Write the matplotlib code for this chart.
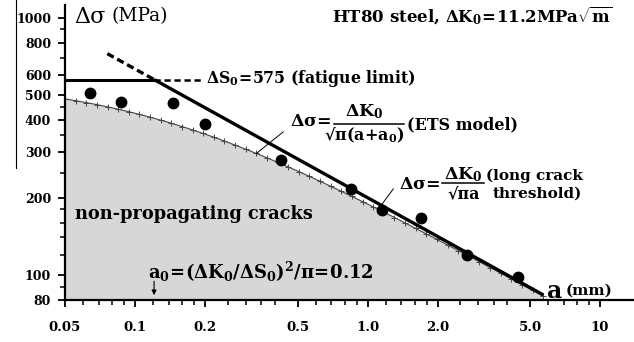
import numpy as np
import matplotlib.pyplot as plt
from matplotlib.lines import Line2D
from matplotlib.ticker import FixedLocator, FixedFormatter, NullFormatter

plt.rcParams['font.family'] = 'DejaVu Serif'
plt.rcParams['mathtext.fontset'] = 'custom'
plt.rcParams['mathtext.rm'] = 'DejaVu Serif:bold'
plt.rcParams['mathtext.it'] = 'DejaVu Serif:bold'
plt.rcParams['mathtext.bf'] = 'DejaVu Serif:bold'

# material constants (HT80 steel)
dK0 = 11.2      # MPa sqrt(m)
dS0 = 575.0     # MPa, fatigue limit
a0 = (dK0 / dS0) ** 2 / np.pi * 1000.0   # mm

# non-propagating crack data
a_data = [0.064, 0.087, 0.146, 0.201, 0.426, 0.85, 1.15, 1.70, 2.67, 4.46]
s_data = [509, 472, 466, 386, 281, 216, 179, 167, 120, 98.5]

xticks = [0.05, 0.1, 0.2, 0.5, 1.0, 2.0, 5.0, 10]
xticklabels = ['0.05', '0.1', '0.2', '0.5', '1.0', '2.0', '5.0', '10']
xminor = [0.06, 0.07, 0.08, 0.09, 0.12, 0.14, 0.16, 0.18, 0.25, 0.3, 0.35, 0.4,
          0.6, 0.7, 0.8, 0.9, 1.2, 1.4, 1.6, 1.8, 2.5, 3, 3.5, 4, 6, 7, 8, 9]
yticks = [80, 100, 200, 300, 400, 500, 600, 800, 1000]
yminor = [90, 120, 140, 160, 180, 250, 350, 450, 700, 900]

a_end = 5.7

# ETS model and long crack threshold
a_ets = np.logspace(np.log10(0.05), np.log10(a_end), 46)
s_ets = dK0 / np.sqrt(np.pi * (a_ets + a0) * 1e-3)
a_lc = np.array([a0, a_end])
s_lc = dK0 / np.sqrt(np.pi * a_lc * 1e-3)
a_lcd = np.array([0.076, a0])
s_lcd = dK0 / np.sqrt(np.pi * a_lcd * 1e-3)

fig = plt.figure(figsize=(6.34, 3.42), dpi=100)
ax = fig.add_axes([65 / 634, 42 / 342, 569 / 634, 295 / 342])
ax.set_xscale('log')
ax.set_yscale('log')
ax.set_xlim(0.05, 14)
ax.set_ylim(80, 1120)

ax.fill_between(a_ets, 80, s_ets, color='#d7d7d7', lw=0, zorder=1)
ax.plot(a_ets, s_ets, color='#444444', lw=0.8, marker='+', ms=4.5, mew=0.7, zorder=2)
ax.plot(a_lc, s_lc, color='k', lw=2.4, solid_capstyle='butt', zorder=3)
ax.plot([0.05, a0], [dS0, dS0], color='k', lw=2.2, zorder=3)
ax.plot(a_lcd, s_lcd, color='k', lw=2.4, ls=(0, (2.2, 1.2)), zorder=3)
ax.plot([a0, 0.196], [dS0, dS0], color='k', lw=1.8, ls=(0, (2.5, 1.5)), zorder=3)
ax.plot(a_data, s_data, 'o', color='k', ms=7.5, zorder=4)

for s in ['top', 'right']:
    ax.spines[s].set_visible(False)
for s in ['left', 'bottom']:
    ax.spines[s].set_linewidth(1.6)

ax.xaxis.set_major_locator(FixedLocator(xticks))
ax.xaxis.set_major_formatter(FixedFormatter(xticklabels))
ax.xaxis.set_minor_locator(FixedLocator(xminor))
ax.xaxis.set_minor_formatter(NullFormatter())
ax.yaxis.set_major_locator(FixedLocator(yticks))
ax.yaxis.set_major_formatter(FixedFormatter([str(v) for v in yticks]))
ax.yaxis.set_minor_locator(FixedLocator(yminor))
ax.yaxis.set_minor_formatter(NullFormatter())
ax.tick_params(which='major', direction='out', length=5, width=1.3)
ax.tick_params(which='minor', direction='out', length=3.5, width=1.1)
ax.tick_params(axis='x', which='major', pad=10, labelsize=9.5)
ax.tick_params(axis='y', which='major', pad=5, labelsize=9)
for lab in ax.get_xticklabels() + ax.get_yticklabels():
    lab.set_fontweight('bold')

# axis captions and header
ax.text(0.0545, 1010, 'Δσ', fontsize=16, va='center', ha='left')
ax.text(0.079, 1010, '(MPa)', fontsize=13.5, va='center', ha='left')
ax.text(11.4, 1018, r'HT80 steel, $\Delta K_0\!=\!11.2MPa\sqrt{m}$', fontsize=12,
        fontweight='bold', va='center', ha='right')
ax.text(0.203, 582, r'$\Delta S_0\!=\!575$ (fatigue limit)', fontsize=11.3,
        fontweight='bold', va='center', ha='left')
ax.text(5.9, 87, 'a', fontsize=17, fontweight='bold', va='center', ha='left')
ax.text(7.1, 87, '(mm)', fontsize=11, fontweight='bold', va='center', ha='left')


def frac_label(x, y, num, den, x0, x1, yn, yd, size, dsize):
    # numerator / bar / denominator, all placed in data coordinates
    ax.text(x, yn, num, fontsize=size, fontweight='bold', ha='center', va='center')
    ax.text(x, yd, den, fontsize=dsize, fontweight='bold', ha='center', va='center')
    ax.plot([x0, x1], [y, y], color='k', lw=1.1)


# ETS model label
ax.text(0.462, 394, r'$\Delta\sigma\!=$', fontsize=12.5, ha='left', va='center')
frac_label(0.97, 386, r'$\Delta K_0$', r'√π(a+a$_0$)', 0.721, 1.44, 431, 350, 12.5, 11.5)
ax.text(1.483, 383, '(ETS model)', fontsize=11.5, fontweight='bold', ha='left', va='center')

# long crack threshold label
ax.text(1.37, 224, r'$\Delta\sigma\!=$', fontsize=12.5, ha='left', va='center')
frac_label(2.58, 228, r'$\Delta K_0$', '√πa', 2.095, 3.17, 245, 207, 12.5, 11.5)
ax.text(3.236, 243, '(long crack', fontsize=11, fontweight='bold', ha='left', va='center')
ax.text(3.46, 208, 'threshold)', fontsize=11, fontweight='bold', ha='left', va='center')

ax.text(0.0552, 173, 'non-propagating cracks', fontsize=12.8, fontweight='bold',
        va='center', ha='left')
ax.text(0.1135, 103, r'$a_0\!=\!(\Delta K_0/\Delta S_0)^2/\pi\!=\!0.12$', fontsize=13,
        va='center', ha='left')

# leader lines
ax.plot([0.434, 0.333], [360, 297], color='k', lw=0.7, zorder=2)
ax.plot([1.29, 1.147], [216, 187], color='k', lw=0.7, zorder=2)

# a0 marker arrow
ax.annotate('', xy=(a0, 81.5), xytext=(a0, 97),
            arrowprops=dict(arrowstyle='-|>', color='k', lw=0.8, mutation_scale=7))

fig.add_artist(Line2D([16 / 634, 16 / 634], [1, 1 - 168 / 342], color='k', lw=0.8))

fig.savefig('out.png', dpi=100, facecolor='white')
